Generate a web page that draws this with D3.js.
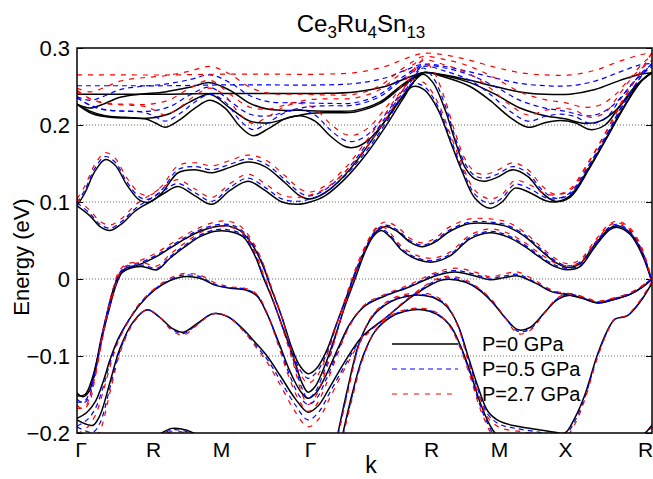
<!DOCTYPE html>
<html><head><meta charset="utf-8">
<script src="https://cdn.jsdelivr.net/npm/d3@7"></script>
<style>body{margin:0;background:#fff}svg{display:block}text{font-family:"Liberation Sans",Arial,sans-serif;fill:#000}</style>
</head><body><svg id="c" width="653" height="479"></svg>
<script>
// Each row: [k, E(P=0), E(P=0.5 GPa), E(P=2.7 GPa)]
const bandA = [[0.00,0.240,0.251,0.265],[0.43,0.240,0.251,0.265],[0.93,0.240,0.251,0.265],[1.43,0.241,0.252,0.266],[1.93,0.241,0.252,0.266],[2.43,0.241,0.252,0.266],[2.78,0.243,0.254,0.268],[3.08,0.250,0.261,0.276],[3.28,0.260,0.271,0.286],[3.46,0.268,0.279,0.293],[3.68,0.265,0.276,0.291],[3.93,0.258,0.269,0.284],[4.18,0.250,0.261,0.275],[4.43,0.243,0.254,0.268],[4.68,0.240,0.251,0.265],[4.93,0.240,0.251,0.265],[5.18,0.246,0.257,0.271],[5.43,0.258,0.269,0.283],[5.63,0.266,0.278,0.291],[5.75,0.268,0.280,0.294]];
const bandB = [[0.00,0.227,0.237,0.248],[0.13,0.222,0.232,0.243],[0.28,0.228,0.238,0.249],[0.43,0.236,0.246,0.257],[0.63,0.240,0.250,0.261],[0.88,0.243,0.253,0.264],[1.13,0.249,0.259,0.270],[1.33,0.255,0.265,0.276],[1.53,0.245,0.255,0.266],[1.73,0.228,0.238,0.249],[1.93,0.220,0.230,0.241],[2.23,0.219,0.229,0.240],[2.53,0.218,0.228,0.239],[2.78,0.219,0.229,0.240],[3.03,0.230,0.240,0.251],[3.23,0.250,0.260,0.271],[3.38,0.263,0.273,0.284],[3.46,0.268,0.278,0.289],[3.68,0.264,0.274,0.285],[3.93,0.255,0.265,0.276],[4.18,0.240,0.250,0.261],[4.43,0.222,0.232,0.243],[4.68,0.212,0.222,0.233],[4.88,0.208,0.218,0.229],[5.08,0.202,0.212,0.223],[5.23,0.205,0.215,0.226],[5.38,0.218,0.228,0.239],[5.53,0.240,0.250,0.261],[5.68,0.262,0.272,0.283],[5.75,0.268,0.278,0.289]];
const bandC = [[0.00,0.227,0.235,0.243],[0.13,0.218,0.226,0.234],[0.28,0.212,0.220,0.228],[0.48,0.210,0.218,0.226],[0.68,0.208,0.216,0.224],[0.78,0.203,0.211,0.219],[0.88,0.197,0.205,0.213],[1.03,0.207,0.215,0.223],[1.18,0.222,0.230,0.238],[1.33,0.232,0.240,0.248],[1.48,0.222,0.230,0.238],[1.63,0.198,0.206,0.214],[1.76,0.186,0.194,0.202],[1.91,0.195,0.203,0.211],[2.08,0.208,0.216,0.224],[2.23,0.212,0.220,0.228],[2.38,0.205,0.213,0.221],[2.53,0.186,0.194,0.202],[2.68,0.172,0.180,0.188],[2.78,0.171,0.179,0.187],[2.91,0.180,0.188,0.196],[3.08,0.205,0.213,0.221],[3.23,0.232,0.240,0.248],[3.36,0.255,0.263,0.271],[3.46,0.268,0.276,0.284],[3.68,0.262,0.270,0.278],[3.93,0.250,0.258,0.266],[4.13,0.232,0.240,0.248],[4.33,0.210,0.218,0.226],[4.51,0.197,0.205,0.213],[4.68,0.203,0.211,0.219],[4.83,0.206,0.214,0.222],[4.98,0.203,0.211,0.219],[5.13,0.194,0.202,0.210],[5.28,0.200,0.208,0.216],[5.43,0.225,0.233,0.241],[5.58,0.250,0.258,0.266],[5.75,0.268,0.276,0.284]];
const bandD = [[0.00,0.227,0.236,0.245],[0.15,0.215,0.224,0.233],[0.33,0.210,0.219,0.228],[0.53,0.209,0.218,0.227],[0.73,0.209,0.218,0.227],[0.93,0.215,0.224,0.233],[1.13,0.230,0.239,0.248],[1.33,0.240,0.249,0.258],[1.53,0.222,0.231,0.240],[1.73,0.205,0.214,0.223],[1.93,0.203,0.212,0.221],[2.13,0.210,0.219,0.228],[2.33,0.215,0.224,0.233],[2.53,0.216,0.225,0.234],[2.78,0.217,0.226,0.235],[3.03,0.228,0.237,0.246],[3.23,0.248,0.257,0.266],[3.38,0.262,0.271,0.280],[3.46,0.268,0.277,0.286]];
const bandE = [[0.00,0.095,0.099,0.104],[0.08,0.112,0.116,0.121],[0.18,0.140,0.144,0.149],[0.28,0.155,0.159,0.164],[0.38,0.148,0.152,0.157],[0.50,0.122,0.126,0.131],[0.63,0.102,0.106,0.111],[0.73,0.100,0.104,0.109],[0.85,0.112,0.116,0.121],[1.01,0.138,0.142,0.147],[1.18,0.142,0.146,0.151],[1.35,0.138,0.142,0.147],[1.53,0.145,0.149,0.154],[1.71,0.152,0.156,0.161],[1.88,0.146,0.150,0.155],[2.08,0.125,0.129,0.134],[2.23,0.108,0.112,0.117],[2.33,0.104,0.108,0.113],[2.48,0.112,0.116,0.121],[2.68,0.135,0.139,0.144],[2.88,0.168,0.172,0.177],[3.08,0.205,0.209,0.214],[3.23,0.233,0.237,0.242],[3.36,0.250,0.254,0.259],[3.48,0.245,0.249,0.254],[3.61,0.220,0.224,0.229],[3.73,0.180,0.184,0.189],[3.85,0.140,0.144,0.149],[3.98,0.105,0.110,0.115],[4.13,0.092,0.098,0.104],[4.25,0.100,0.105,0.110],[4.38,0.118,0.123,0.128],[4.53,0.112,0.117,0.122],[4.68,0.102,0.106,0.111],[4.78,0.100,0.104,0.109],[4.93,0.108,0.112,0.117],[5.10,0.140,0.144,0.149],[5.28,0.180,0.184,0.189],[5.45,0.220,0.225,0.231],[5.63,0.255,0.261,0.268],[5.75,0.268,0.280,0.294]];
const bandF = [[0.00,0.095,0.099,0.104],[0.13,0.082,0.085,0.089],[0.23,0.068,0.071,0.075],[0.33,0.063,0.066,0.070],[0.45,0.072,0.075,0.079],[0.58,0.088,0.091,0.096],[0.73,0.100,0.104,0.109],[0.88,0.112,0.116,0.121],[1.01,0.120,0.124,0.129],[1.18,0.108,0.112,0.117],[1.35,0.097,0.101,0.106],[1.53,0.115,0.119,0.124],[1.71,0.127,0.131,0.136],[1.88,0.115,0.119,0.124],[2.05,0.100,0.104,0.109],[2.21,0.097,0.101,0.106],[2.33,0.100,0.104,0.109],[2.48,0.108,0.112,0.117],[2.68,0.130,0.134,0.139],[2.88,0.160,0.164,0.169],[3.08,0.197,0.201,0.206],[3.25,0.232,0.237,0.243],[3.38,0.258,0.264,0.271],[3.46,0.266,0.274,0.284],[3.56,0.255,0.262,0.271],[3.68,0.220,0.226,0.233],[3.78,0.180,0.185,0.191],[3.88,0.145,0.150,0.156],[3.98,0.130,0.134,0.139],[4.08,0.127,0.131,0.136],[4.20,0.132,0.136,0.141],[4.36,0.142,0.146,0.151],[4.51,0.133,0.137,0.142],[4.65,0.112,0.116,0.121],[4.78,0.101,0.105,0.110],[4.93,0.106,0.110,0.115],[5.13,0.145,0.149,0.154],[5.31,0.186,0.190,0.195],[5.48,0.225,0.230,0.236],[5.65,0.258,0.265,0.273],[5.75,0.268,0.280,0.294]];
const bandG1 = [[0.00,-0.148,-0.156,-0.164],[0.06,-0.153,-0.161,-0.169],[0.12,-0.146,-0.154,-0.161],[0.18,-0.118,-0.123,-0.129],[0.24,-0.078,-0.080,-0.082],[0.30,-0.045,-0.044,-0.043],[0.36,-0.015,-0.014,-0.013],[0.42,0.005,0.007,0.010],[0.49,0.014,0.016,0.019],[0.61,0.018,0.020,0.023],[0.78,0.028,0.030,0.033],[0.93,0.040,0.042,0.045],[1.08,0.052,0.054,0.057],[1.23,0.062,0.064,0.067],[1.38,0.068,0.070,0.074],[1.51,0.069,0.071,0.075],[1.63,0.063,0.065,0.069],[1.75,0.045,0.047,0.050],[1.85,0.020,0.022,0.024],[1.95,-0.015,-0.014,-0.013],[2.05,-0.050,-0.050,-0.050],[2.15,-0.090,-0.093,-0.096],[2.23,-0.113,-0.118,-0.123],[2.31,-0.123,-0.129,-0.135],[2.39,-0.117,-0.122,-0.128],[2.49,-0.095,-0.099,-0.102],[2.59,-0.060,-0.061,-0.062],[2.69,-0.025,-0.024,-0.023],[2.79,0.010,0.012,0.015],[2.89,0.040,0.042,0.045],[2.98,0.060,0.062,0.065],[3.08,0.068,0.070,0.074],[3.20,0.062,0.064,0.068],[3.33,0.048,0.050,0.053],[3.45,0.042,0.044,0.047],[3.58,0.048,0.050,0.053],[3.73,0.062,0.064,0.068],[3.93,0.072,0.074,0.078],[4.13,0.072,0.074,0.078],[4.30,0.068,0.070,0.074],[4.48,0.055,0.057,0.060],[4.63,0.038,0.040,0.043],[4.78,0.022,0.024,0.027],[4.90,0.015,0.017,0.020],[5.03,0.020,0.022,0.025],[5.18,0.045,0.047,0.050],[5.33,0.066,0.068,0.072],[5.41,0.069,0.071,0.075],[5.53,0.060,0.062,0.066],[5.65,0.035,0.037,0.040],[5.75,-0.004,-0.003,-0.002]];
const bandG2 = [[0.00,-0.152,-0.160,-0.168],[0.08,-0.150,-0.158,-0.166],[0.15,-0.130,-0.136,-0.142],[0.21,-0.100,-0.104,-0.108],[0.27,-0.065,-0.066,-0.067],[0.33,-0.035,-0.034,-0.033],[0.39,-0.008,-0.007,-0.006],[0.45,0.008,0.010,0.013],[0.53,0.014,0.016,0.019],[0.66,0.016,0.018,0.021],[0.80,0.012,0.014,0.017],[0.93,0.027,0.029,0.032],[1.08,0.042,0.044,0.047],[1.23,0.055,0.057,0.060],[1.38,0.062,0.064,0.068],[1.51,0.062,0.064,0.068],[1.66,0.055,0.057,0.060],[1.78,0.030,0.032,0.035],[1.86,0.003,0.005,0.008],[1.95,-0.025,-0.024,-0.023],[2.05,-0.060,-0.061,-0.062],[2.16,-0.100,-0.104,-0.108],[2.25,-0.135,-0.142,-0.149],[2.31,-0.147,-0.155,-0.163],[2.38,-0.140,-0.147,-0.154],[2.48,-0.112,-0.117,-0.122],[2.58,-0.075,-0.077,-0.079],[2.68,-0.035,-0.034,-0.033],[2.78,0.000,0.002,0.004],[2.88,0.035,0.037,0.040],[2.96,0.055,0.057,0.060],[3.04,0.063,0.065,0.069],[3.13,0.055,0.057,0.060],[3.25,0.037,0.039,0.042],[3.41,0.025,0.027,0.030],[3.56,0.022,0.024,0.027],[3.73,0.030,0.032,0.035],[3.93,0.052,0.054,0.057],[4.13,0.060,0.062,0.065],[4.30,0.055,0.057,0.060],[4.48,0.042,0.044,0.047],[4.63,0.028,0.030,0.033],[4.78,0.016,0.018,0.021],[4.90,0.012,0.014,0.017],[5.03,0.016,0.018,0.021],[5.18,0.042,0.044,0.047],[5.33,0.064,0.066,0.070],[5.41,0.067,0.069,0.073],[5.53,0.058,0.060,0.064],[5.65,0.032,0.034,0.037],[5.75,-0.004,-0.003,-0.002]];
const bandH = [[0.00,-0.181,-0.191,-0.201],[0.10,-0.173,-0.183,-0.193],[0.18,-0.160,-0.169,-0.178],[0.26,-0.134,-0.141,-0.147],[0.33,-0.105,-0.109,-0.114],[0.41,-0.078,-0.080,-0.082],[0.51,-0.055,-0.055,-0.056],[0.63,-0.033,-0.032,-0.031],[0.78,-0.014,-0.013,-0.012],[0.93,-0.002,-0.001,0.001],[1.06,0.003,0.005,0.007],[1.23,0.001,0.003,0.005],[1.38,-0.008,-0.007,-0.005],[1.53,-0.012,-0.011,-0.010],[1.68,-0.014,-0.013,-0.012],[1.80,-0.022,-0.021,-0.020],[1.90,-0.045,-0.045,-0.044],[2.01,-0.080,-0.082,-0.085],[2.13,-0.120,-0.126,-0.131],[2.23,-0.145,-0.153,-0.160],[2.31,-0.155,-0.163,-0.172],[2.39,-0.148,-0.156,-0.164],[2.49,-0.125,-0.131,-0.137],[2.61,-0.090,-0.093,-0.096],[2.73,-0.058,-0.059,-0.060],[2.88,-0.035,-0.034,-0.033],[3.08,-0.022,-0.021,-0.020],[3.33,-0.010,-0.009,-0.007],[3.58,0.004,0.006,0.008],[3.78,0.009,0.011,0.014],[3.98,0.004,0.006,0.009],[4.13,-0.001,0.001,0.003],[4.28,0.002,0.004,0.007],[4.41,0.004,0.006,0.009],[4.58,-0.005,-0.004,-0.002],[4.76,-0.017,-0.016,-0.015],[4.93,-0.021,-0.020,-0.019],[5.08,-0.026,-0.025,-0.024],[5.20,-0.031,-0.030,-0.029],[5.36,-0.027,-0.026,-0.025],[5.53,-0.020,-0.019,-0.018],[5.66,-0.010,-0.009,-0.008],[5.75,0.000,0.001,0.002]];
const bandI = [[0.00,-0.183,-0.192,-0.201],[0.08,-0.188,-0.197,-0.206],[0.16,-0.190,-0.199,-0.208],[0.23,-0.177,-0.187,-0.197],[0.33,-0.134,-0.141,-0.147],[0.43,-0.090,-0.093,-0.096],[0.56,-0.056,-0.057,-0.058],[0.70,-0.040,-0.040,-0.040],[0.83,-0.050,-0.050,-0.050],[0.95,-0.064,-0.065,-0.067],[1.06,-0.069,-0.071,-0.073],[1.21,-0.057,-0.058,-0.059],[1.36,-0.045,-0.045,-0.045],[1.51,-0.049,-0.049,-0.049],[1.66,-0.065,-0.066,-0.067],[1.78,-0.082,-0.085,-0.087],[1.90,-0.100,-0.104,-0.108],[2.03,-0.125,-0.131,-0.137],[2.18,-0.155,-0.163,-0.172],[2.31,-0.173,-0.183,-0.192],[2.41,-0.165,-0.174,-0.183],[2.53,-0.140,-0.147,-0.154],[2.68,-0.107,-0.112,-0.116],[2.85,-0.075,-0.077,-0.079],[3.10,-0.049,-0.049,-0.049],[3.38,-0.020,-0.019,-0.018],[3.66,-0.001,0.001,0.003],[3.88,-0.004,-0.003,-0.001],[4.03,-0.015,-0.014,-0.013],[4.16,-0.031,-0.030,-0.029],[4.28,-0.050,-0.050,-0.050],[4.41,-0.066,-0.068,-0.071],[4.53,-0.063,-0.065,-0.067],[4.68,-0.043,-0.043,-0.043],[4.80,-0.027,-0.026,-0.025],[4.93,-0.021,-0.020,-0.019],[5.08,-0.026,-0.025,-0.024],[5.20,-0.031,-0.030,-0.029],[5.36,-0.027,-0.026,-0.025],[5.53,-0.020,-0.019,-0.018],[5.66,-0.010,-0.009,-0.008],[5.75,0.000,0.001,0.002]];
const bandJ1 = [[2.61,-0.200,-0.202,-0.204],[2.71,-0.140,-0.143,-0.146],[2.83,-0.080,-0.081,-0.082],[2.96,-0.048,-0.047,-0.046],[3.13,-0.030,-0.029,-0.027],[3.28,-0.023,-0.022,-0.020],[3.43,-0.021,-0.020,-0.018],[3.58,-0.025,-0.024,-0.022],[3.70,-0.036,-0.035,-0.034],[3.81,-0.060,-0.061,-0.062],[3.91,-0.100,-0.103,-0.106],[4.01,-0.140,-0.144,-0.148],[4.11,-0.172,-0.176,-0.180],[4.23,-0.185,-0.189,-0.193],[4.43,-0.192,-0.195,-0.198],[4.63,-0.196,-0.199,-0.202],[4.78,-0.199,-0.202,-0.205],[4.88,-0.200,-0.203,-0.206],[4.98,-0.180,-0.184,-0.188],[5.08,-0.150,-0.153,-0.156],[5.20,-0.100,-0.102,-0.104],[5.30,-0.068,-0.069,-0.070],[5.38,-0.052,-0.052,-0.052],[5.50,-0.048,-0.048,-0.047],[5.63,-0.030,-0.029,-0.028],[5.75,-0.005,-0.004,-0.003]];
const bandJ2 = [[2.66,-0.200,-0.202,-0.204],[2.75,-0.150,-0.153,-0.156],[2.86,-0.100,-0.101,-0.103],[2.98,-0.068,-0.068,-0.068],[3.13,-0.050,-0.049,-0.048],[3.28,-0.042,-0.041,-0.040],[3.45,-0.040,-0.039,-0.038],[3.60,-0.046,-0.045,-0.044],[3.73,-0.060,-0.061,-0.062],[3.83,-0.085,-0.087,-0.089],[3.93,-0.120,-0.123,-0.126],[4.03,-0.160,-0.164,-0.168],[4.13,-0.190,-0.194,-0.198],[4.18,-0.200,-0.204,-0.208]];
const bandK = [[0.81,-0.203,-0.205,-0.207],[0.95,-0.194,-0.196,-0.198],[1.09,-0.196,-0.198,-0.200],[1.21,-0.203,-0.205,-0.207]];
const bandL = [[5.66,-0.203,-0.204,-0.206],[5.71,-0.196,-0.197,-0.199],[5.75,-0.190,-0.191,-0.193]];
const bands = [bandA, bandB, bandC, bandD, bandE, bandF, bandG1, bandG2, bandH, bandI, bandJ1, bandJ2, bandK, bandL];

const kTickLabels = ["Γ","R","M","Γ","R","M","X","R"];
const kTickPos = [0.035, 0.76, 1.44, 2.33, 3.54, 4.22, 4.88, 5.68];
const yTicks = [-0.2, -0.1, 0, 0.1, 0.2, 0.3];
const gridLevels = [-0.1, 0, 0.1, 0.2];
const seriesNames = ["P=0 GPa", "P=0.5 GPa", "P=2.7 GPa"];
const seriesColors = ["#000000", "#0000ff", "#ff0000"];
const titleParts = [["Ce", false], ["3", true], ["Ru", false], ["4", true], ["Sn", false], ["13", true]];

const svg = d3.select("#c");
const L = 77, R = 652, T = 48, B = 433;
const x = d3.scaleLinear().domain([0, 5.75]).range([L, R]);
const y = d3.scaleLinear().domain([-0.2, 0.3]).range([B, T]);

svg.append("clipPath").attr("id","clip").append("rect")
  .attr("x", L).attr("y", T).attr("width", R-L).attr("height", B-T);

// grid
svg.append("g").selectAll("line").data(gridLevels).join("line")
  .attr("x1", L).attr("x2", R).attr("y1", d=>y(d)).attr("y2", d=>y(d))
  .attr("stroke", "#666").attr("stroke-width", 1).attr("stroke-dasharray", "1,2");

// axes (ticks inside on both sides)
const yl = d3.axisLeft(y).tickValues(yTicks).tickSizeInner(-6).tickSizeOuter(0).tickPadding(7)
  .tickFormat(d => d === 0 ? "0" : d3.format(".1f")(d));
const gl = svg.append("g").attr("transform", `translate(${L},0)`).call(yl);
gl.select(".domain").remove();
gl.selectAll("text").style("font-size","22px").style("font-family","Liberation Sans, Arial, sans-serif").attr("fill","#000");
gl.selectAll("line").attr("stroke","#000");
const yr = d3.axisRight(y).tickValues(yTicks).tickSizeInner(-6).tickSizeOuter(0).tickFormat("");
const gr = svg.append("g").attr("transform", `translate(${R},0)`).call(yr);
gr.select(".domain").remove();
gr.selectAll("line").attr("stroke","#000");

const xb = d3.axisBottom(x).tickValues(kTickPos).tickSize(0).tickPadding(9)
  .tickFormat((d,i) => kTickLabels[i]);
const gb = svg.append("g").attr("transform", `translate(0,${B})`).call(xb);
gb.select(".domain").remove();
gb.selectAll("text").style("font-size","21px").style("font-family","Liberation Sans, Arial, sans-serif").attr("fill","#000");

// bands
const plot = svg.append("g").attr("clip-path","url(#clip)");
const styles = [
  {col:1, color: seriesColors[0], dash: null, w: 1.5},
  {col:2, color: seriesColors[1], dash: "5,4", w: 1.2},
  {col:3, color: seriesColors[2], dash: "5,6", w: 1.2}
];
styles.forEach(s => {
  const line = d3.line().x(d => x(d[0])).y(d => y(d[s.col])).curve(d3.curveCatmullRom.alpha(0.5));
  plot.append("g").selectAll("path").data(bands).join("path")
    .attr("d", line).attr("fill","none").attr("stroke", s.color)
    .attr("stroke-width", s.w).attr("stroke-dasharray", s.dash);
});

// frame
svg.append("rect").attr("x",L).attr("y",T).attr("width",R-L).attr("height",B-T)
  .attr("fill","none").attr("stroke","#000").attr("stroke-width",1.5);

// legend
const lg = svg.append("g");
styles.forEach((s,i) => {
  const ly = 344 + i*25;
  lg.append("line").attr("x1",392).attr("x2",458).attr("y1",ly).attr("y2",ly)
    .attr("stroke", s.color).attr("stroke-width", s.w).attr("stroke-dasharray", s.dash);
  lg.append("text").attr("x",482).attr("y",ly+7).style("font-size","20px").text(seriesNames[i]);
});

// title
const t = svg.append("text").attr("x", 361).attr("y", 32).attr("text-anchor","middle").style("font-size","24px");
let prevSub = false;
titleParts.forEach(([s, sub]) => {
  const dy = sub && !prevSub ? 6 : (!sub && prevSub ? -6 : 0);
  t.append("tspan").text(s).style("font-size", sub ? "17px" : "24px").attr("dy", dy);
  prevSub = sub;
});

// axis labels
svg.append("text").attr("transform","translate(29,257) rotate(-90)").attr("text-anchor","middle")
  .style("font-size","22px").text("Energy (eV)");
svg.append("text").attr("x", 371).attr("y", 473).attr("text-anchor","middle").style("font-size","23px").text("k");
</script></body></html>
